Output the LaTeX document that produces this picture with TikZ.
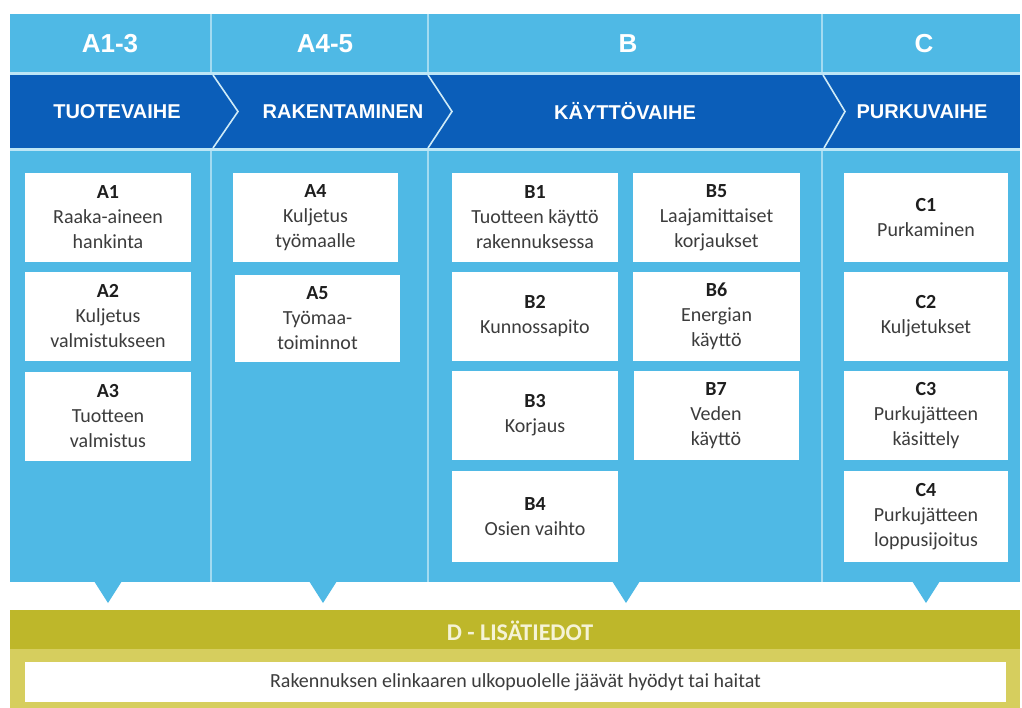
\documentclass[tikz,border=0pt]{standalone}
\usepackage{fontspec}
\setmainfont{Carlito}
\newfontfamily\hdrfont{Liberation Sans}
\definecolor{lb}{HTML}{4FB9E5}
\definecolor{db}{HTML}{0B5EB9}
\definecolor{gapc}{HTML}{BDE6F6}
\definecolor{sepc}{HTML}{A3DBF1}
\definecolor{chevc}{HTML}{CFEBF7}
\definecolor{ydark}{HTML}{BEB72A}
\definecolor{ylight}{HTML}{D6CE5E}
\definecolor{ytext}{HTML}{F5F3D6}
\definecolor{labc}{HTML}{1E1E1E}
\definecolor{txtc}{HTML}{3C3C3C}
\tikzset{
  box/.style={fill=white, inner sep=0pt, align=center, minimum width=166pt, minimum height=89pt,
    font=\fontsize{20}{25}\selectfont, text=txtc},
  colhead/.style={font=\hdrfont\bfseries\fontsize{26}{30}\selectfont, text=white},
  phase/.style={font=\hdrfont\bfseries\fontsize{20}{24}\selectfont, text=white},
  sepline/.style={draw=sepc, line width=1.5pt},
  chevline/.style={draw=chevc, line width=1.6pt},
  tri/.style={fill=lb}
}
\newcommand{\lab}[1]{{\bfseries\color{labc}#1}}
\begin{document}
\begin{tikzpicture}[x=1pt,y=-1pt]
\useasboundingbox (0,0) rectangle (1022,708);
\fill[white] (0,0) rectangle (1022,708);
% bands
\fill[gapc] (10,14) rectangle (1020,582);
\fill[lb] (10,14) rectangle (1020,72);
\fill[db] (10,75) rectangle (1020,148);
\fill[lb] (10,151) rectangle (1020,582);
% separators
\foreach \xx in {211,428,822}{
  \draw[sepline] (\xx,14) -- (\xx,72);
  \draw[sepline] (\xx,151) -- (\xx,582);
}
% chevrons
\draw[chevline] (213,75) -- (238,111.5) -- (213,148);
\draw[chevline] (428,75) -- (452,111.5) -- (428,148);
\draw[chevline] (823,75) -- (845,111.5) -- (824,148);
% column headers
\node[colhead] (hA13) at (110,44) {A1-3};
\node[colhead] (hA45) at (325,44) {A4-5};
\node[colhead] (hB) at (628,44) {B};
\node[colhead] (hC) at (924,44) {C};
% phase names
\node[phase] (pA13) at (117,111.5) {TUOTEVAIHE};
\node[phase] (pA45) at (343,111.5) {RAKENTAMINEN};
\node[phase] (pB) at (625,111.5) {KÄYTTÖVAIHE};
\node[phase] (pC) at (922,111.5) {PURKUVAIHE};
% A boxes
\node[box] (A1) at (108,217.5) {\lab{A1}\\Raaka-aineen\\hankinta};
\node[box] (A2) at (108,316.5) {\lab{A2}\\Kuljetus\\valmistukseen};
\node[box] (A3) at (108,416) {\lab{A3}\\Tuotteen\\valmistus};
\node[box, minimum width=165pt] (A4) at (315.5,217.5) {\lab{A4}\\Kuljetus\\työmaalle};
\node[box, minimum width=165pt, minimum height=87pt] (A5) at (317.5,318.5) {\lab{A5}\\Työmaa-\\toiminnot};
% B boxes
\node[box] (B1) at (535,217.5) {\lab{B1}\\Tuotteen käyttö\\rakennuksessa};
\node[box] (B2) at (535,316.5) {\lab{B2}\\Kunnossapito};
\node[box] (B3) at (535,415.5) {\lab{B3}\\Korjaus};
\node[box, minimum height=91pt] (B4) at (535,516.5) {\lab{B4}\\Osien vaihto};
\node[box, minimum width=167pt] (B5) at (716.5,217.5) {\lab{B5}\\Laajamittaiset\\korjaukset};
\node[box, minimum width=167pt] (B6) at (716.5,316.5) {\lab{B6}\\Energian\\käyttö};
\node[box, minimum width=165pt] (B7) at (716,415.5) {\lab{B7}\\Veden\\käyttö};
% C boxes
\node[box, minimum width=164pt] (C1) at (926,217.5) {\lab{C1}\\Purkaminen};
\node[box, minimum width=164pt] (C2) at (926,316.5) {\lab{C2}\\Kuljetukset};
\node[box, minimum width=164pt] (C3) at (926,415.5) {\lab{C3}\\Purkujätteen\\käsittely};
\node[box, minimum width=164pt, minimum height=91pt] (C4) at (926,516.5) {\lab{C4}\\Purkujätteen\\loppusijoitus};
% triangles
\foreach \tx in {108,323,626,926}{
  \fill[tri] (\tx-14,581) -- (\tx+14,581) -- (\tx,603) -- cycle;
}
% D band
\fill[ydark] (10,610) rectangle (1020,649);
\fill[ylight] (10,649) rectangle (1020,708);
\node[font=\bfseries\fontsize{24}{28}\selectfont, text=ytext] (D) at (520,631) {D - LISÄTIEDOT};
\node[fill=white, minimum width=981pt, minimum height=40pt, inner sep=0pt,
      font=\fontsize{20}{24}\selectfont, text=txtc] (Dbox) at (515.5,682) {Rakennuksen elinkaaren ulkopuolelle jäävät hyödyt tai haitat};
\end{tikzpicture}
\end{document}
